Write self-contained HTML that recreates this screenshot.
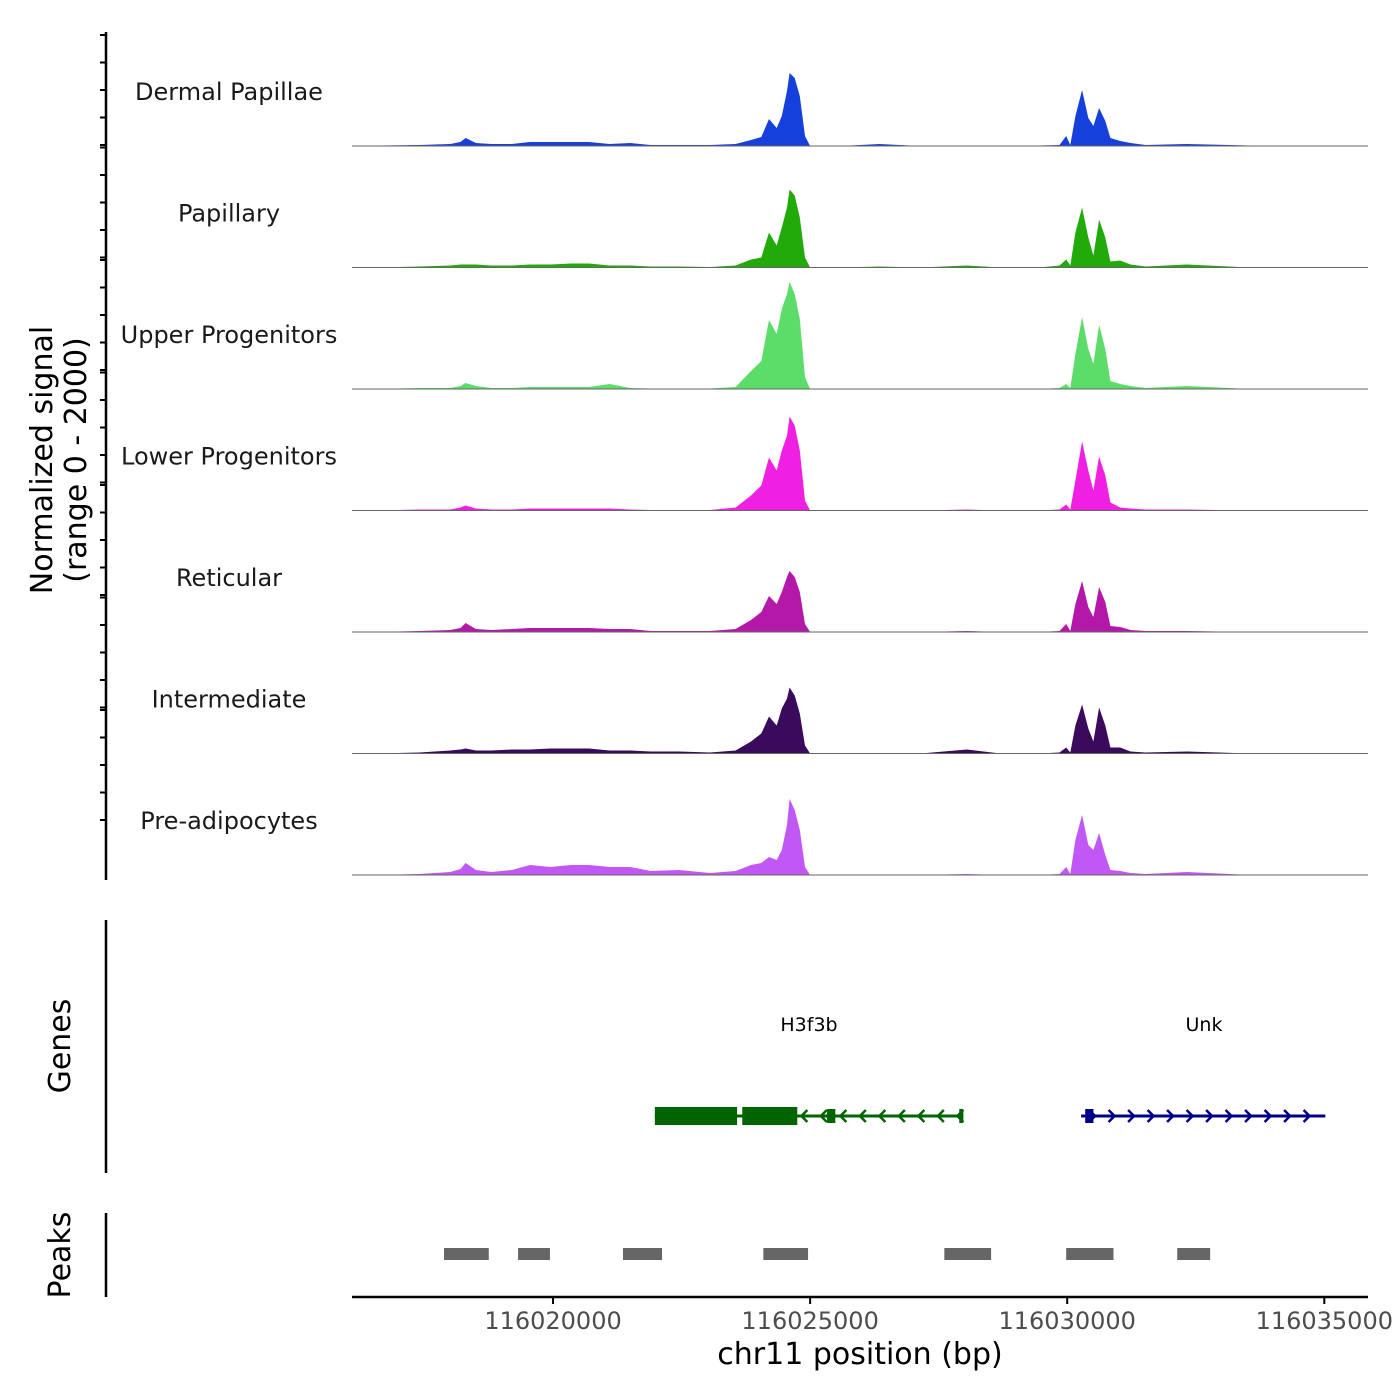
<!DOCTYPE html>
<html><head><meta charset="utf-8">
<style>
body{margin:0;background:#fff;}
svg{display:block;font-family:"DejaVu Sans","Liberation Sans",sans-serif;}
</style></head>
<body>
<svg id="chart" width="1400" height="1400" viewBox="0 0 1400 1400">
<g id="tracks"></g>
<g id="yticks"><line x1="106" y1="32" x2="106" y2="880" stroke="#000" stroke-width="2.5"/></g>
<text transform="translate(52,460) rotate(-90)" text-anchor="middle" font-size="30" fill="#000">Normalized signal</text>
<text transform="translate(86,460) rotate(-90)" text-anchor="middle" font-size="30" fill="#000">(range 0 - 2000)</text>
<line x1="106" y1="920" x2="106" y2="1173" stroke="#000" stroke-width="2.5"/>
<text transform="translate(70,1046) rotate(-90)" text-anchor="middle" font-size="30" fill="#000">Genes</text>
<g id="genes"></g>
<line x1="106" y1="1213" x2="106" y2="1297" stroke="#000" stroke-width="2.5"/>
<text transform="translate(70,1255) rotate(-90)" text-anchor="middle" font-size="30" fill="#000">Peaks</text>
<g id="peaks"></g>
<g id="xaxis"><line x1="352" y1="1297" x2="1368" y2="1297" stroke="#000" stroke-width="2.5"/></g>
<text x="860" y="1364" text-anchor="middle" font-size="30" fill="#000">chr11 position (bp)</text>
</svg>
<script>
const positions=[116016100,116016600,116017400,116018000,116018200,116018300,116018500,116018800,116019200,116019550,116019950,116020350,116020700,116021100,116021500,116021900,116022450,116023050,116023550,116023850,116024050,116024200,116024350,116024450,116024550,116024600,116024700,116024800,116024900,116025000,116025600,116026350,116027150,116028050,116028700,116029450,116029850,116029980,116030060,116030160,116030290,116030410,116030510,116030620,116030740,116030840,116031030,116031230,116031520,116032330,116033560,116035850];
const trackNames=["Dermal Papillae","Papillary","Upper Progenitors","Lower Progenitors","Reticular","Intermediate","Pre-adipocytes"];
const trackColors=["#1640dc","#22aa0a","#5cdc68","#f020e2","#b418a8","#3a0a5c","#c157f5"];
const dermalPapillae=[0,10,20,40,80,160,60,40,40,80,80,80,80,40,60,20,20,20,40,120,180,540,360,600,1100,1460,1360,1000,200,0,0,40,0,10,10,10,20,200,20,600,1120,560,400,760,500,160,100,60,20,40,10,0];
const papillary=[0,0,20,40,60,60,60,40,40,60,60,80,80,40,40,20,20,10,40,160,200,700,440,800,1200,1560,1440,1000,200,0,0,20,0,40,0,0,40,160,40,700,1200,600,240,960,600,120,140,60,20,60,0,0];
const upperProgenitors=[0,0,20,20,60,120,60,20,20,40,40,40,40,100,20,10,10,10,40,360,560,1380,1100,1600,1900,2140,1900,1400,240,0,0,0,0,0,0,0,20,100,20,700,1440,800,500,1280,800,160,100,60,20,60,0,0];
const lowerProgenitors=[0,0,20,20,60,100,40,20,20,40,40,40,40,40,20,10,10,10,60,300,500,1060,800,1200,1500,1880,1700,1200,200,0,0,0,0,20,0,0,20,120,20,600,1380,800,400,1080,700,160,60,40,20,20,0,0];
const reticular=[0,0,20,40,80,180,60,40,60,80,80,80,80,60,60,20,20,20,60,240,400,720,560,800,1100,1220,1100,800,160,0,0,0,0,20,0,0,20,160,20,560,1020,500,300,900,600,120,100,40,20,20,0,0];
const intermediate=[0,0,20,60,80,100,60,60,80,80,100,100,100,60,60,40,40,20,60,240,400,740,560,900,1100,1320,1160,800,160,0,0,0,0,80,0,0,20,120,20,560,980,500,240,920,560,120,120,40,20,40,0,0];
const preAdipocytes=[0,0,20,60,120,240,100,60,100,200,160,200,200,160,160,80,100,40,80,200,240,360,300,500,1000,1520,1300,900,160,0,0,0,0,20,0,0,20,160,20,700,1200,600,500,840,400,100,80,40,20,60,0,0];
const trackValues=[dermalPapillae,papillary,upperProgenitors,lowerProgenitors,reticular,intermediate,preAdipocytes];
const xTicks=[116020000,116025000,116030000,116035000];
const xTickLabels=["116020000","116025000","116030000","116035000"];
const peakStarts=[116017880,116019320,116021360,116024090,116027610,116029980,116032140];
const peakEnds=[116018750,116019940,116022120,116024960,116028520,116030900,116032780];
const geneNames=["H3f3b","Unk"];
const geneStarts=[116021980,116030270];
const geneEnds=[116027980,116035020];
const geneStrands=["-","+"];
const h3f3bExonStarts=[116021980,116023680,116025330,116027900];
const h3f3bExonEnds=[116023580,116024750,116025490,116027980];
const unkExonStarts=[116030350];
const unkExonEnds=[116030510];

const NS="http://www.w3.org/2000/svg";
const X0=352,X1=1368,BP0=116016090,BP1=116035850;
function xs(bp){return X0+(bp-BP0)/(BP1-BP0)*(X1-X0);}
const SIG_MAX=2000,SIG_PX=100;
function ys(v,base){return base-v/SIG_MAX*SIG_PX;}
function mk(tag,attrs,parent){const e=document.createElementNS(NS,tag);for(const k in attrs)e.setAttribute(k,attrs[k]);parent.appendChild(e);return e;}

const tracks=document.getElementById('tracks');
const baseFirst=146,trackStep=121.5;
trackNames.forEach((name,i)=>{
  const base=baseFirst+i*trackStep;
  const vals=trackValues[i];
  let d="M"+xs(positions[0])+","+base;
  positions.forEach((p,j)=>{d+=" L"+xs(p).toFixed(1)+","+ys(vals[j],base).toFixed(1);});
  d+=" L"+xs(positions[positions.length-1])+","+base+" Z";
  const g=mk('g',{},tracks);
  
  
  const a=mk('path',{d:d,fill:trackColors[i]},g);
  
  
  const l=mk('line',{x1:X0,x2:X1,y1:base,y2:base,stroke:"#666","stroke-width":1},g);
  
  
  const t=mk('text',{x:229,y:base-46,"text-anchor":"middle","font-size":24,fill:"#1a1a1a"},g);
  t.textContent=name;
  
  
});
const yt=document.getElementById('yticks');
for(let k=0;k<7;k++){
  const top=35+k*112.5;
  for(let m=0;m<5;m++){
    const y=top+m*27.5;
    if(y>878)continue;
    const tk=mk('line',{x1:100,x2:106,y1:y,y2:y,stroke:"#000","stroke-width":2},yt);
    
    
  }
}
const xa=document.getElementById('xaxis');
xTicks.forEach((v,i)=>{
  const x=xs(v);
  const tk=mk('line',{x1:x,x2:x,y1:1297,y2:1304,stroke:"#000","stroke-width":2},xa);
  
  
  const t=mk('text',{x:x,y:1329,"text-anchor":"middle","font-size":24,fill:"#4d4d4d"},xa);
  t.textContent=xTickLabels[i];
  
  
});
const pk=document.getElementById('peaks');
peakStarts.forEach((s,i)=>{
  const r=mk('rect',{x:xs(s),y:1248,width:xs(peakEnds[i])-xs(s),height:12,fill:"#666"},pk);
  
  
});
const gn=document.getElementById('genes');
const gy=1116;
const geneColors=["#006400","#00008b"];
const exS=[h3f3bExonStarts,unkExonStarts],exE=[h3f3bExonEnds,unkExonEnds];
geneNames.forEach((name,i)=>{
  const g=mk('g',{},gn);
  
  
  const c=geneColors[i];
  const x1=xs(geneStarts[i]),x2=xs(geneEnds[i]);
  mk('line',{x1:x1,x2:x2,y1:gy,y2:gy,stroke:c,"stroke-width":3},g);
  const step=19.5;
  for(let x=x1+12;x<x2-4;x+=step){
    const dir=geneStrands[i]==="+"?1:-1;
    mk('polyline',{points:(x-4*dir)+","+(gy-6)+" "+(x+2*dir)+","+gy+" "+(x-4*dir)+","+(gy+6),fill:"none",stroke:c,"stroke-width":2.5},g);
  }
  exS[i].forEach((s,j)=>{
    const big=(i===0&&j<2);
    const h=big?18:14;
    const r=mk('rect',{x:xs(s),y:gy-h/2,width:Math.max(4,xs(exE[i][j])-xs(s)),height:h,fill:c},g);
    
    
  });
  const t=mk('text',{x:i===0?809:1204,y:1031,"text-anchor":"middle","font-size":19,fill:"#000"},g);
  t.textContent=name;
  
  
});
</script>
</body></html>
